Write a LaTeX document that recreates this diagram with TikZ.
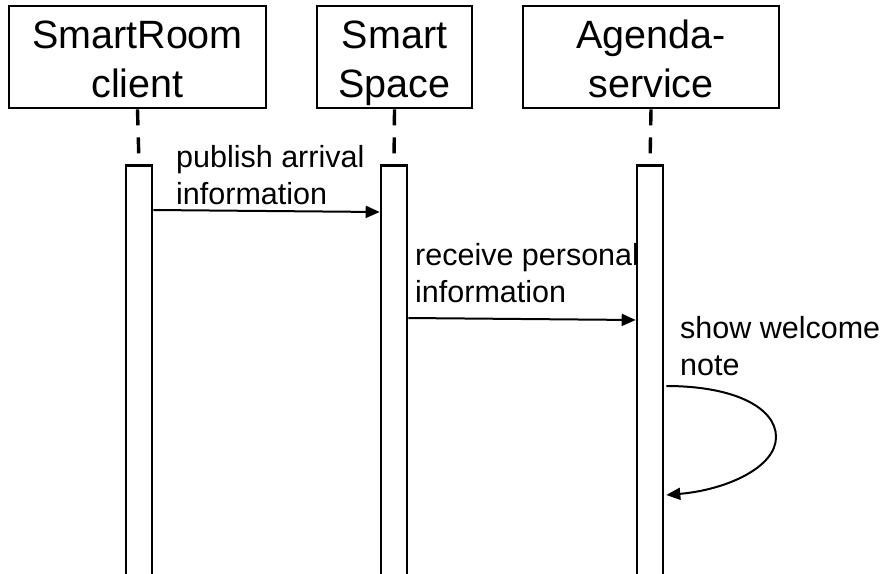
\documentclass[tikz,border=0pt]{standalone}
\usepackage{fontspec}
\setmainfont{Liberation Sans}
\usetikzlibrary{arrows.meta}

\begin{document}
\begin{tikzpicture}[x=1pt,y=-1pt,
  actor/.style={draw,line width=2.6pt,rectangle,inner sep=0pt,
    align=center,text height=90pt,text depth=10pt,
    font=\fontsize{39.5}{48.5}\selectfont},
  bar/.style={draw,line width=2.6pt,rectangle,inner sep=0pt,
    minimum width=26pt,minimum height=440pt,anchor=north},
  lifeline/.style={line width=3.4pt,dash pattern=on 16pt off 12pt},
  msg/.style={line width=2pt,-{Triangle[length=14pt,width=12pt]}},
  note/.style={anchor=base west,align=left,inner sep=0pt,
    font=\fontsize{30.5}{37}\selectfont}]

\useasboundingbox (0,0) rectangle (891,573);
\clip (0,0) rectangle (891,573);

% participants
\node[actor,minimum width=257pt,minimum height=102pt] (client) at (137.5,57) {SmartRoom\\client};
\node[actor,minimum width=155pt,minimum height=102pt] (space) at (394.5,57) {Smart\\Space};
\node[actor,minimum width=256pt,minimum height=102pt] (agenda) at (651,57) {Agenda-\\service};

% activation bars, running past the bottom edge
\node[bar] (bar1) at (139,164) {};
\node[bar] (bar2) at (394,164) {};
\node[bar] (bar3) at (650,164) {};

% lifelines from each box down to its bar
\draw[lifeline] (client.south) -- (bar1.north);
\draw[lifeline] (space.south) -- (bar2.north);
\draw[lifeline] (agenda.south) -- (bar3.north);

% publish arrival information
\path (bar1.north east) ++(0,46) coordinate (m1s);
\path (bar2.north west) ++(0,48) coordinate (m1e);
\draw[msg] (m1s) -- (m1e);
\node[note] (l1) at (176,204) {publish arrival\\information};

% receive personal information
\path (bar2.north east) ++(0,154) coordinate (m2s);
\path (bar3.north west) ++(0,156) coordinate (m2e);
\draw[msg] (m2s) -- (m2e);
\node[note] (l2) at (415,302) {receive personal\\information};

% show welcome note (self call)
\path (bar3.north east) ++(2,222) coordinate (m3s);
\path (bar3.north east) ++(2,331) coordinate (m3e);
\draw[msg] (m3s) .. controls (735,386) and (776,408) .. (776,437)
  .. controls (776,468) and (725,490) .. (m3e);
\node[note] (l3) at (680,375) {show welcome\\note};

\end{tikzpicture}
\end{document}
